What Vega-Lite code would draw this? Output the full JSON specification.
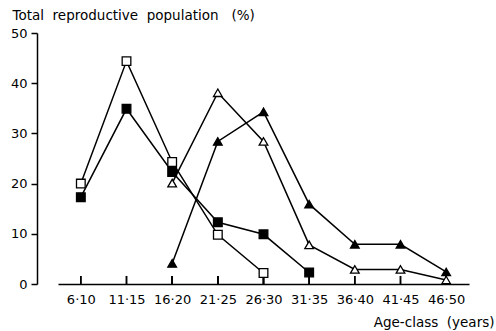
{
  "$schema": "https://vega.github.io/schema/vega-lite/v6.json",
  "width": 433,
  "height": 251,
  "autosize": "none",
  "padding": {"left": 37, "top": 33, "right": 26, "bottom": 47},
  "background": "white",
  "config": {
    "view": {"stroke": null},
    "font": "DejaVu Sans",
    "axis": {
      "domainColor": "black",
      "tickColor": "black",
      "labelColor": "black",
      "titleColor": "black",
      "grid": false,
      "labelFont": "DejaVu Sans",
      "titleFont": "DejaVu Sans",
      "labelFontSize": 13,
      "titleFontSize": 13.5,
      "titleFontWeight": "normal",
      "domainWidth": 1.5,
      "tickWidth": 1.5
    }
  },
  "data": {
    "values": [
      {"series": "A", "age": "6·10", "pct": 20},
      {"series": "A", "age": "11·15", "pct": 44.4},
      {"series": "A", "age": "16·20", "pct": 24.3},
      {"series": "A", "age": "21·25", "pct": 9.8},
      {"series": "A", "age": "26·30", "pct": 2.2},
      {"series": "B", "age": "6·10", "pct": 17.3},
      {"series": "B", "age": "11·15", "pct": 34.9},
      {"series": "B", "age": "16·20", "pct": 22.3},
      {"series": "B", "age": "21·25", "pct": 12.3},
      {"series": "B", "age": "26·30", "pct": 9.9},
      {"series": "B", "age": "31·35", "pct": 2.3},
      {"series": "C", "age": "16·20", "pct": 20.1},
      {"series": "C", "age": "21·25", "pct": 38.1},
      {"series": "C", "age": "26·30", "pct": 28.4},
      {"series": "C", "age": "31·35", "pct": 7.8},
      {"series": "C", "age": "36·40", "pct": 2.9},
      {"series": "C", "age": "41·45", "pct": 2.9},
      {"series": "C", "age": "46·50", "pct": 0.8},
      {"series": "D", "age": "16·20", "pct": 4.1},
      {"series": "D", "age": "21·25", "pct": 28.4},
      {"series": "D", "age": "26·30", "pct": 34.3},
      {"series": "D", "age": "31·35", "pct": 15.9},
      {"series": "D", "age": "36·40", "pct": 7.9},
      {"series": "D", "age": "41·45", "pct": 7.9},
      {"series": "D", "age": "46·50", "pct": 2.4}
    ]
  },
  "encoding": {
    "x": {
      "field": "age",
      "type": "ordinal",
      "sort": ["6·10", "11·15", "16·20", "21·25", "26·30", "31·35", "36·40", "41·45", "46·50"],
      "scale": {"type": "point", "range": [21, 432]},
      "axis": {
        "title": "Age-class\u00a0\u00a0(years)",
        "labelAngle": 0,
        "ticks": false,
        "labelPadding": 9,
        "titleAnchor": "end",
        "titleAlign": "right",
        "titleX": 457,
        "titleY": 42,
        "titleBaseline": "alphabetic"
      }
    },
    "y": {
      "field": "pct",
      "type": "quantitative",
      "scale": {"domain": [0, 50], "nice": false},
      "axis": {
        "title": "Total\u00a0\u00a0reproductive\u00a0\u00a0population\u00a0\u00a0\u00a0(%)",
        "values": [0, 10, 20, 30, 40, 50],
        "tickSize": 6,
        "labelPadding": 4,
        "titleAngle": 0,
        "titleAlign": "left",
        "titleBaseline": "alphabetic",
        "titleX": -25,
        "titleY": -14
      }
    }
  },
  "layer": [
    {
      "mark": {"type": "rule", "color": "black", "strokeWidth": 1.5},
      "encoding": {
        "y": {"datum": 0},
        "y2": {"datum": 1.6}
      }
    },
    {
      "mark": {"type": "line", "color": "black", "strokeWidth": 1.5},
      "encoding": {
        "detail": {"field": "series"},
        "order": {"value": null}
      }
    },
    {
      "mark": {"type": "point", "stroke": "black", "strokeWidth": 1.3, "opacity": 1, "filled": false},
      "encoding": {
        "shape": {
          "field": "series",
          "scale": {"domain": ["A", "B", "C", "D"], "range": ["square", "square", "triangle-up", "triangle-up"]},
          "legend": null
        },
        "fill": {
          "field": "series",
          "scale": {"domain": ["A", "B", "C", "D"], "range": ["white", "black", "white", "black"]},
          "legend": null
        },
        "size": {"value": 75}
      }
    }
  ]
}
